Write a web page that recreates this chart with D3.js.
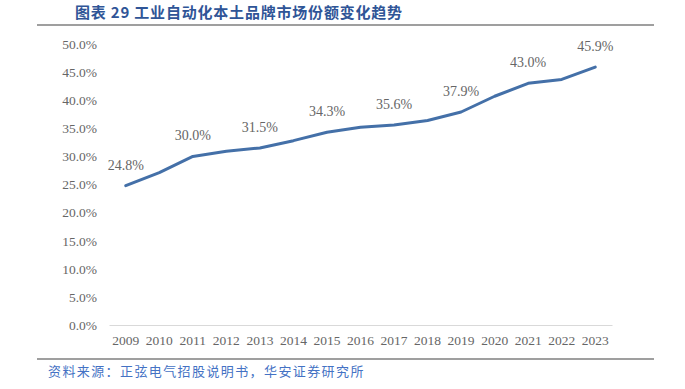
<!DOCTYPE html>
<html>
<head>
<meta charset="utf-8">
<script src="https://cdn.jsdelivr.net/npm/d3@7"></script>
<style>
  body { margin: 0; background: #fff; }
</style>
</head>
<body>
<div id="chart"></div>
<script>
const years = ["2009","2010","2011","2012","2013","2014","2015","2016","2017","2018","2019","2020","2021","2022","2023"];
const share = [24.8, 27.1, 30.0, 30.9, 31.5, 32.8, 34.3, 35.2, 35.6, 36.4, 37.9, 40.7, 43.0, 43.7, 45.9];
const labelledYears = ["2009","2011","2013","2015","2017","2019","2021","2023"];
const yTicks = [0, 5, 10, 15, 20, 25, 30, 35, 40, 45, 50];

const W = 685, H = 389;
const svg = d3.select("#chart").append("svg").attr("width", W).attr("height", H);

// header + footer
svg.append("text")
  .attr("x", 75).attr("y", 18)
  .attr("font-family", "'Noto Sans CJK SC', sans-serif")
  .attr("font-weight", "bold").attr("font-size", 15)
  .attr("letter-spacing", 0.8)
  .attr("fill", "#2F5597")
  .text("图表 29 工业自动化本土品牌市场份额变化趋势");
svg.append("line").attr("x1", 37).attr("x2", 654).attr("y1", 25).attr("y2", 25)
  .attr("stroke", "#7f7f7f").attr("stroke-width", 1.5);
svg.append("line").attr("x1", 37).attr("x2", 654).attr("y1", 359).attr("y2", 359)
  .attr("stroke", "#7f7f7f").attr("stroke-width", 1.5);
svg.append("text")
  .attr("x", 48).attr("y", 376)
  .attr("font-family", "'Noto Sans CJK SC', sans-serif")
  .attr("font-size", 13).attr("letter-spacing", 1.4)
  .attr("fill", "#4472C4")
  .text("资料来源：正弦电气招股说明书，华安证券研究所");

const x = d3.scaleBand().domain(years).range([109, 612]);
const y = d3.scaleLinear().domain([0, 50]).range([325, 44]);
const serif = "'Liberation Serif', 'Times New Roman', serif";
const grey = "#666666";

// y axis labels
const yAxis = svg.append("g").attr("transform", "translate(97,0)")
  .call(d3.axisLeft(y).tickValues(yTicks).tickSize(0).tickPadding(0)
    .tickFormat(d => d.toFixed(1) + "%"));
yAxis.select(".domain").remove();
yAxis.selectAll("text").attr("font-family", serif).attr("font-size", 13.5).attr("fill", grey);

// x axis
const xAxis = svg.append("g").attr("transform", "translate(0,325)")
  .call(d3.axisBottom(x).tickSize(0).tickPadding(10));
xAxis.select(".domain").attr("stroke", "#d9d9d9").attr("stroke-width", 1);
xAxis.selectAll("text").attr("font-family", serif).attr("font-size", 13.5).attr("fill", grey);

const cx = d => x(d) + x.bandwidth() / 2;
const pts = years.map((yr, i) => ({ yr, v: share[i] }));

svg.append("path").datum(pts)
  .attr("fill", "none").attr("stroke", "#4470A8").attr("stroke-width", 3)
  .attr("stroke-linejoin", "round").attr("stroke-linecap", "round")
  .attr("d", d3.line().x(d => cx(d.yr)).y(d => y(d.v)));

svg.append("g").selectAll("text")
  .data(pts.filter(d => labelledYears.includes(d.yr)))
  .join("text")
  .attr("x", d => cx(d.yr)).attr("y", d => y(d.v) - 16)
  .attr("text-anchor", "middle")
  .attr("font-family", serif).attr("font-size", 14).attr("fill", grey)
  .text(d => d.v.toFixed(1) + "%");
</script>
</body>
</html>
